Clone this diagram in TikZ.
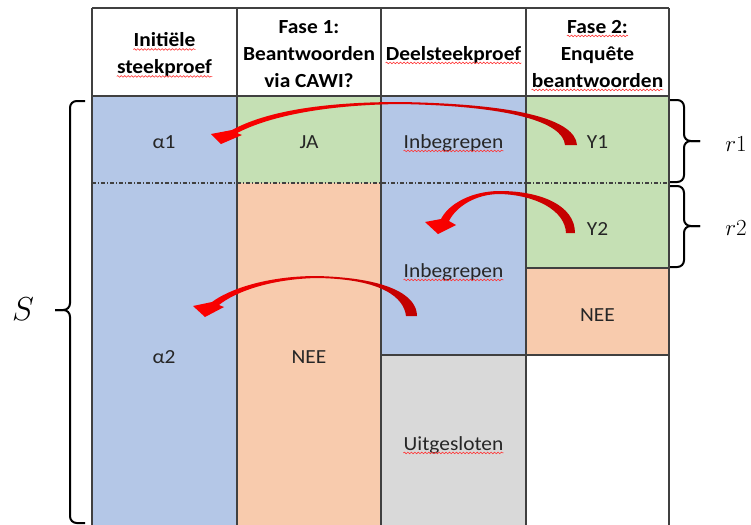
\documentclass[tikz,border=0pt]{standalone}
\usepackage{amsmath}
\usepackage{fontspec}
\setmainfont{Carlito}[FakeStretch=1.07]
\usepackage{tikz}
\usetikzlibrary{decorations.pathmorphing}
\definecolor{cblue}{HTML}{B4C7E7}
\definecolor{cgreen}{HTML}{C5E0B4}
\definecolor{corange}{HTML}{F8CBAD}
\definecolor{cgrey}{HTML}{D9D9D9}
\definecolor{cline}{HTML}{404040}
\definecolor{darkred}{HTML}{C00000}
\tikzstyle{txt}=[inner sep=0pt,anchor=base,text=black!85,font=\fontsize{15}{18}\selectfont]
\tikzstyle{head}=[inner sep=0pt,anchor=base,font=\fontsize{15}{18}\selectfont\bfseries]
\tikzstyle{grid}=[line width=0.9pt,color=cline]
\tikzstyle{spell}=[draw=red!80,line width=0.45pt,decorate,decoration={snake,amplitude=0.6pt,segment length=2.6pt}]
\tikzstyle{brace}=[line width=1.5pt,rounded corners=5pt]
\tikzstyle{bentarrow}=[left color=red,right color=darkred]

\begin{document}
\begin{tikzpicture}[x=0.75pt,y=-0.75pt]
\useasboundingbox (0,0) rectangle (751,525);
% cells
\fill[cblue] (92,96) rectangle (237,525);
\fill[cgreen] (237,96) rectangle (381,183);
\fill[corange] (237,183) rectangle (381,525);
\fill[cblue] (381,96) rectangle (526,355);
\fill[cgrey] (381,355) rectangle (526,525);
\fill[cgreen] (526,96) rectangle (669,268);
\fill[corange] (526,268) rectangle (669,355);
\draw[grid,dash pattern=on 3pt off 1.5pt on 0.8pt off 1.5pt] (92,183)--(669,183);
% grid
\draw[grid] (92,8)--(669,8);
\draw[grid] (92,96)--(669,96);
\draw[grid] (526,268)--(669,268);
\draw[grid] (381,355)--(669,355);
\foreach \x in {92,237,381,526,669}
    \draw[grid] (\x,8)--(\x,525);
% header
\node[head] (h1a) at (164.5,46.5) {Initiële};
\node[head] (h1b) at (164.5,73.5) {steekproef};
\node[head] (h2a) at (309,33) {Fase 1:};
\node[head] (h2b) at (309,60) {Beantwoorden};
\node[head] (h2c) at (309,87) {via CAWI?};
\node[head] (h3) at (453.5,60) {Deelsteekproef};
\node[head] (h4a) at (597.5,33) {Fase 2:};
\node[head] (h4b) at (597.5,60) {Enquête};
\node[head] (h4c) at (597.5,87) {beantwoorden};
% body
\node[txt] (a1) at (164,148) {α1};
\node[txt] (ja) at (309,148) {JA};
\node[txt] (i1) at (453.5,148) {Inbegrepen};
\node[txt] (y1) at (597.5,148) {Y1};
\node[txt] (y2) at (597.5,235) {Y2};
\node[txt] (i2) at (453.5,277) {Inbegrepen};
\node[txt] (n4) at (597.5,321) {NEE};
\node[txt] (a2) at (164,363) {α2};
\node[txt] (n2) at (309,363) {NEE};
\node[txt] (u1) at (453.5,450) {Uitgesloten};
\foreach \n in {h1a,h1b,h3,h4a,h4c,i1,i2,u1}
    \draw[spell] ([yshift=-2.2pt]\n.base west)--([yshift=-2.2pt]\n.base east);
% braces
\coordinate (sb) at (85,523);
\coordinate (st) at (85,101);
\coordinate (r1t) at (670,100);
\coordinate (r1b) at (670,182);
\coordinate (r2t) at (670,186);
\coordinate (r2b) at (670,267);
\draw[brace] (st) -| (70,310) -- (55,310);
\draw[brace] (sb) -| (70,310) -- (55,310);
\draw[brace] (r1t) -| (684,141) -- (700,141);
\draw[brace] (r1b) -| (684,141) -- (700,141);
\draw[brace] (r2t) -| (684,226) -- (700,226);
\draw[brace] (r2b) -| (684,226) -- (700,226);
\node (s) at (23,309) {\fontsize{25}{28}\selectfont$S$};
\node (r1) at (736,144) {\fontsize{19}{22}\selectfont$r1$};
\node (r2) at (736,228) {\fontsize{19}{22}\selectfont$r2$};
% arrows
\shade[bentarrow] (577,145) .. controls (575,120) and (520,104) .. (400,102)
    .. controls (320,102) and (265,112) .. (232,130) -- (211,134) -- (221,144) -- (242,135) -- (237,133)
    .. controls (270,116) and (325,105) .. (400,104) .. controls (510,106) and (563,122) .. (565,145) -- cycle;
\shade[bentarrow] (575,233) .. controls (575,205) and (540,191) .. (500,191)
    .. controls (470,191) and (448,205) .. (441,219) -- (425,222) -- (438,234) -- (456,225) -- (449,221)
    .. controls (456,207) and (475,194) .. (500,194) .. controls (535,195) and (565,210) .. (566,233) -- cycle;
\shade[bentarrow] (417,316) .. controls (417,296) and (390,278) .. (317,276)
    .. controls (265,276) and (228,290) .. (212,302) -- (193,306) -- (205,317) -- (224,307) -- (219,305)
    .. controls (235,292) and (270,279) .. (317,278) .. controls (383,279) and (404,298) .. (406,316) -- cycle;
\end{tikzpicture}
\end{document}
